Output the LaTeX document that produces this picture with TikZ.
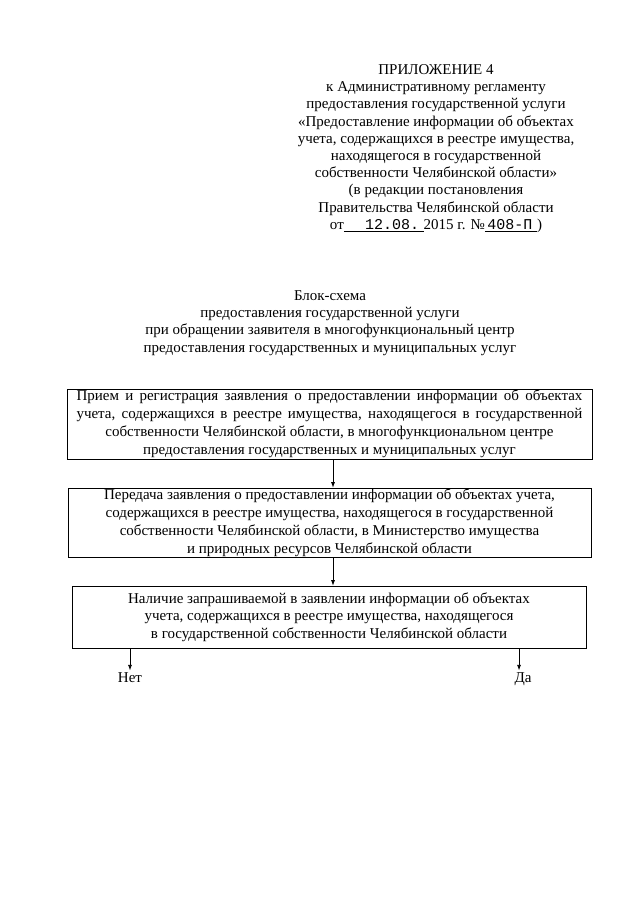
\documentclass[tikz,border=0pt]{standalone}
\usepackage{fontspec}
\setmainfont{Liberation Serif}
\newfontfamily\typefont{Liberation Mono}
\usetikzlibrary{arrows.meta,positioning}
\tikzset{
  stepbox/.style={draw=black,line width=0.7pt,align=center,inner sep=0pt,
    fill=white,font=\fontsize{14}{16.9}\selectfont},
  flow/.style={black,line width=0.7pt,-{Latex[length=1.8mm,width=1.3mm]}},
  answer/.style={font=\fontsize{14}{16}\selectfont,inner sep=1pt,anchor=base,
    text height=1.6ex,text depth=0.3ex}
}
\newcommand\fullline[1]{\makebox[166mm][s]{#1}}

\begin{document}
\begin{tikzpicture}[x=0.328125mm,y=-0.328125mm]
  \useasboundingbox (0,0) rectangle (640,905);
  % appendix header
  \node[align=center,font=\fontsize{14}{16.1}\selectfont] (appx) at (436,148.5)
    {ПРИЛОЖЕНИЕ 4\\
     к Административному регламенту\\
     предоставления государственной услуги\\
     «Предоставление информации об объектах\\
     учета, содержащихся в реестре имущества,\\
     находящегося в государственной\\
     собственности Челябинской области»\\
     (в редакции постановления\\
     Правительства Челябинской области\\
     от\underline{\hspace{7mm}{\typefont 12.08.}\hspace{1.5mm}}2015 г. №\underline{\,{\typefont 408-П}\hspace{1.5mm}})};
  \node[align=center,font=\fontsize{14}{16}\selectfont] (title) at (330,323)
    {Блок-схема\\
     предоставления государственной услуги\\
     при обращении заявителя в многофункциональный центр\\
     предоставления государственных и муниципальных услуг};
  % steps
  \node[stepbox,minimum width=172.3mm,minimum height=23mm] (recv) at (329.5,424)
    {\fullline{Прием и регистрация заявления о предоставлении информации об объектах}\\
     \fullline{учета, содержащихся в реестре имущества, находящегося в государственной}\\
     собственности Челябинской области, в многофункциональном центре\\
     предоставления государственных и муниципальных услуг};
  \node[stepbox,minimum width=171.6mm,minimum height=22.6mm] (send) at (329.5,522.5)
    {Передача заявления о предоставлении информации об объектах учета,\\
     содержащихся в реестре имущества, находящегося в государственной\\
     собственности Челябинской области, в Министерство имущества\\
     и природных ресурсов Челябинской области};
  \node[stepbox,font=\fontsize{14}{16.4}\selectfont,minimum width=168.7mm,
    minimum height=20.3mm] (check) at (329,617)
    {Наличие запрашиваемой в заявлении информации об объектах\\
     учета, содержащихся в реестре имущества, находящегося\\
     в государственной собственности Челябинской области};
  \node[answer] (no) at (130,682) {Нет};
  \node[answer] (yes) at (523,682) {Да};
  \foreach \a/\b in {recv/send,send/check}
    \draw[flow] (\a.south -| 333,0) -- (\b.north -| 333,0);
  \draw[flow] (no.north |- check.south) -- ([yshift=0.8mm]no.north);
  \draw[flow] ([xshift=-1.3mm]yes.north |- check.south) -- ([xshift=-1.3mm,yshift=0.8mm]yes.north);
\end{tikzpicture}
\end{document}
